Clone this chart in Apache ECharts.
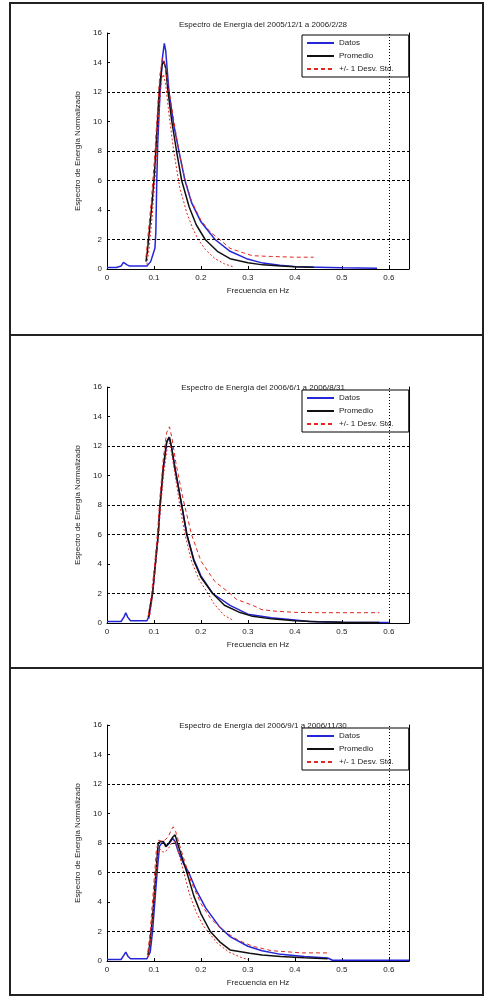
<!DOCTYPE html>
<html>
<head>
<meta charset="utf-8">
<script src="https://cdn.jsdelivr.net/npm/echarts@6/dist/echarts.min.js"></script>
<style>
html, body { margin: 0; padding: 0; background: #fff; }
#chart { width: 485px; height: 997px; }
</style>
</head>
<body>
<div id="chart"></div>
<script>
// espectros de energía normalizados: [frecuencia Hz, valor]
const titles = [
  'Espectro de Energía del 2005/12/1 a 2006/2/28',
  'Espectro de Energía del 2006/6/1 a 2006/8/31',
  'Espectro de Energía del 2006/9/1 a 2006/11/30'
]
const seriesNames = ['Datos', 'Promedio', '+/- 1 Desv. Std.']
const refLevels = [2, 6, 8, 12]
const refFreq = 0.6

const p1Datos = [[0,0.1],[0.02,0.1],[0.03,0.2],[0.035,0.45],[0.038,0.5],[0.042,0.3],[0.048,0.2],[0.085,0.2],[0.093,0.5],[0.098,1.0],[0.102,1.4],[0.104,2.5],[0.106,6],[0.108,8.5],[0.113,12],[0.118,14.3],[0.122,15.3],[0.125,14.8],[0.132,12],[0.142,9.8],[0.153,8],[0.166,6],[0.18,4.5],[0.2,3.2],[0.23,2],[0.262,1.2],[0.297,0.7],[0.332,0.4],[0.368,0.25],[0.403,0.16],[0.45,0.12],[0.5,0.08],[0.575,0.05]]
const p1Prom = [[0.083,0.5],[0.086,1.2],[0.09,2.5],[0.096,4.5],[0.1,6],[0.104,8],[0.111,12],[0.117,13.8],[0.121,14.1],[0.125,13.6],[0.13,12],[0.138,10],[0.148,8],[0.159,6],[0.175,4.2],[0.19,3],[0.209,2],[0.235,1.2],[0.262,0.7],[0.3,0.42],[0.332,0.28],[0.37,0.2],[0.4,0.15],[0.44,0.12]]
const p1Sup = [[0.083,0.8],[0.088,2.5],[0.094,4.5],[0.1,7],[0.106,10],[0.112,13],[0.118,14.3],[0.123,13.9],[0.13,12.5],[0.14,10.5],[0.152,8.2],[0.165,6.2],[0.18,4.6],[0.2,3.3],[0.22,2.5],[0.24,2],[0.262,1.4],[0.29,1.1],[0.31,0.9],[0.35,0.85],[0.4,0.8],[0.44,0.8]]
const p1Inf = [[0.085,0.3],[0.09,1.5],[0.096,3.5],[0.103,6.5],[0.11,10.5],[0.116,12.8],[0.12,13.2],[0.125,12.5],[0.132,10.5],[0.142,8],[0.155,5.5],[0.17,3.8],[0.182,2.8],[0.194,2],[0.21,1.3],[0.23,0.7],[0.25,0.35],[0.268,0.15]]

const p2Datos = [[0,0.1],[0.03,0.1],[0.036,0.4],[0.04,0.7],[0.044,0.4],[0.05,0.15],[0.085,0.15],[0.09,0.5],[0.097,2],[0.103,4],[0.109,6],[0.113,8],[0.12,10.5],[0.127,12.2],[0.132,12.6],[0.137,12],[0.145,10.5],[0.159,8],[0.17,6],[0.185,4.3],[0.2,3.2],[0.225,2],[0.262,1.2],[0.3,0.6],[0.35,0.35],[0.4,0.2],[0.43,0.1],[0.5,0.05],[0.6,0.04]]
const p2Prom = [[0.088,0.4],[0.091,1],[0.097,2],[0.103,4],[0.109,6],[0.113,8],[0.12,10.6],[0.127,12.3],[0.133,12.6],[0.137,12],[0.145,10.4],[0.159,8],[0.17,6],[0.185,4.2],[0.2,3.1],[0.225,2],[0.25,1.2],[0.28,0.75],[0.31,0.45],[0.35,0.28],[0.4,0.15],[0.45,0.08],[0.5,0.05],[0.58,0.04]]
const p2Sup = [[0.088,0.5],[0.095,2],[0.102,4.2],[0.108,6.3],[0.112,8.3],[0.12,11.2],[0.127,12.9],[0.133,13.3],[0.138,12.6],[0.147,10.8],[0.162,8.4],[0.18,6],[0.2,4.2],[0.23,2.8],[0.262,2],[0.276,1.6],[0.31,1.2],[0.33,0.9],[0.36,0.8],[0.4,0.72],[0.45,0.7],[0.5,0.7],[0.58,0.7]]
const p2Inf = [[0.09,0.3],[0.097,1.8],[0.104,4],[0.11,6],[0.114,7.8],[0.121,10.2],[0.128,11.8],[0.133,12.2],[0.137,11.6],[0.145,10],[0.157,7.6],[0.166,6],[0.18,4.2],[0.195,3],[0.215,2],[0.228,1.3],[0.25,0.5],[0.268,0.2]]

const p3Datos = [[0,0.1],[0.03,0.1],[0.036,0.4],[0.04,0.6],[0.045,0.3],[0.05,0.15],[0.085,0.15],[0.092,0.6],[0.097,2],[0.103,4.5],[0.108,6.5],[0.112,7.8],[0.117,8],[0.122,8],[0.127,7.8],[0.133,8],[0.14,8.3],[0.145,8.1],[0.152,7.4],[0.163,6.6],[0.174,6],[0.19,4.8],[0.21,3.6],[0.24,2.3],[0.262,1.65],[0.3,1.0],[0.33,0.7],[0.37,0.45],[0.42,0.3],[0.47,0.2],[0.48,0.05],[0.643,0.05]]
const p3Prom = [[0.087,0.4],[0.091,1.1],[0.097,3],[0.103,5.5],[0.109,8],[0.114,8.1],[0.12,8.1],[0.125,7.75],[0.132,8],[0.14,8.4],[0.145,8.55],[0.15,8],[0.16,7],[0.17,6],[0.185,4.4],[0.2,3.2],[0.22,2],[0.24,1.3],[0.262,0.75],[0.304,0.52],[0.33,0.4],[0.37,0.3],[0.42,0.22],[0.47,0.15]]
const p3Sup = [[0.087,0.6],[0.092,2],[0.098,4.5],[0.105,7.5],[0.11,8.2],[0.117,8.1],[0.123,8.2],[0.13,8.4],[0.137,8.9],[0.141,9.1],[0.146,8.8],[0.155,7.8],[0.165,6.8],[0.18,5.3],[0.2,3.9],[0.22,2.9],[0.25,2],[0.28,1.4],[0.31,1.0],[0.35,0.7],[0.415,0.55],[0.475,0.55]]
const p3Inf = [[0.088,0.3],[0.093,1.5],[0.1,4],[0.107,7],[0.112,7.6],[0.118,7.4],[0.123,7.4],[0.13,7.6],[0.138,8],[0.145,8.1],[0.152,7.4],[0.162,6.2],[0.175,4.6],[0.19,3.3],[0.205,2.4],[0.215,2],[0.235,1.2],[0.26,0.6],[0.285,0.25],[0.3,0.1]]

const panels = [
  { datos: p1Datos, prom: p1Prom, sup: p1Sup, inf: p1Inf, top: 33, titleTop: 16, legendTop: 35, box: [10, 3, 473, 332] },
  { datos: p2Datos, prom: p2Prom, sup: p2Sup, inf: p2Inf, top: 387, titleTop: 379, legendTop: 390, box: [10, 335, 473, 333] },
  { datos: p3Datos, prom: p3Prom, sup: p3Sup, inf: p3Inf, top: 725, titleTop: 717, legendTop: 728, box: [10, 668, 473, 327] }
]

const FONT = 'Liberation Sans, Arial, sans-serif'
const BLUE = '#2626d9'
const BLACK = '#111'
const RED = '#e0281e'

const chart = echarts.init(document.getElementById('chart'))

const grid = [], xAxis = [], yAxis = [], title = [], legend = [], series = [], graphic = []

panels.forEach((p, i) => {
  grid.push({ left: 107, right: 76, top: p.top, height: 236 })
  title.push({
    text: titles[i], left: 258, top: p.titleTop, textAlign: 'center',
    textStyle: { fontSize: 8, fontWeight: 'normal', color: '#222', fontFamily: FONT }
  })
  legend.push({
    data: seriesNames, orient: 'vertical', left: 302, top: p.legendTop,
    itemWidth: 27, itemHeight: 8, itemGap: 5, padding: [4, 15, 4, 4],
    borderColor: '#000', borderWidth: 1, backgroundColor: '#fff',
    itemStyle: { opacity: 0 },
    textStyle: { fontSize: 8, color: '#222', fontFamily: FONT },
    selectedMode: false
  })
  xAxis.push({
    gridIndex: i, type: 'value', min: 0, max: 0.643, interval: 0.1,
    name: 'Frecuencia en Hz', nameLocation: 'middle', nameGap: 18,
    nameTextStyle: { fontSize: 8, color: '#222', fontFamily: FONT },
    axisLine: { lineStyle: { color: '#000', width: 1 } },
    axisTick: { inside: true, length: 3, lineStyle: { color: '#000' } },
    axisLabel: {
      fontSize: 8, color: '#222', fontFamily: FONT, margin: 5,
      formatter: (v) => Math.abs(v * 10 - Math.round(v * 10)) > 1e-6 ? '' : (v === 0 ? '0' : v.toFixed(1))
    },
    splitLine: { show: false }
  })
  yAxis.push({
    gridIndex: i, type: 'value', min: 0, max: 16, interval: 2,
    name: 'Espectro de Energía Normalizado', nameLocation: 'middle', nameGap: 20,
    nameTextStyle: { fontSize: 8, color: '#222', fontFamily: FONT },
    axisLine: { show: true, lineStyle: { color: '#000', width: 1 } },
    axisTick: { show: true, inside: true, length: 3, lineStyle: { color: '#000' } },
    axisLabel: { fontSize: 8, color: '#222', fontFamily: FONT, margin: 5 },
    splitLine: { show: false }
  })
  yAxis.push({
    gridIndex: i, type: 'value', min: 0, max: 16, interval: 2, position: 'right',
    axisLine: { show: true, lineStyle: { color: '#000', width: 1 } },
    axisTick: { show: false }, axisLabel: { show: false }, splitLine: { show: false }
  })
  const axes = { xAxisIndex: i, yAxisIndex: 2 * i }
  series.push({
    name: seriesNames[0], type: 'line', ...axes, data: p.datos, symbol: 'none',
    lineStyle: { color: BLUE, width: 1.5 }, itemStyle: { color: BLUE },
    markLine: {
      silent: true, symbol: 'none', label: { show: false },
      data: [
        ...refLevels.map((v) => ({ yAxis: v, lineStyle: { color: '#000', type: [3, 2], width: 1 } })),
        { xAxis: refFreq, lineStyle: { color: '#000', type: [1, 2], width: 1 } }
      ]
    }
  })
  series.push({
    name: seriesNames[1], type: 'line', ...axes, data: p.prom, symbol: 'none',
    lineStyle: { color: BLACK, width: 1.5 }, itemStyle: { color: BLACK }
  })
  series.push({
    name: seriesNames[2], type: 'line', ...axes, data: p.sup, symbol: 'none',
    lineStyle: { color: RED, width: 1, type: [4, 3] }, itemStyle: { color: RED }
  })
  series.push({
    name: seriesNames[2], type: 'line', ...axes, data: p.inf, symbol: 'none',
    lineStyle: { color: RED, width: 1, type: [2, 2] }, itemStyle: { color: RED }
  })
  graphic.push({
    type: 'rect', silent: true, z: 100,
    shape: { x: p.box[0], y: p.box[1], width: p.box[2], height: p.box[3] },
    style: { fill: 'none', stroke: '#222', lineWidth: 2 }
  })
})

chart.setOption({
  animation: false,
  grid, xAxis, yAxis, title, legend, series, graphic
})
</script>
</body>
</html>
